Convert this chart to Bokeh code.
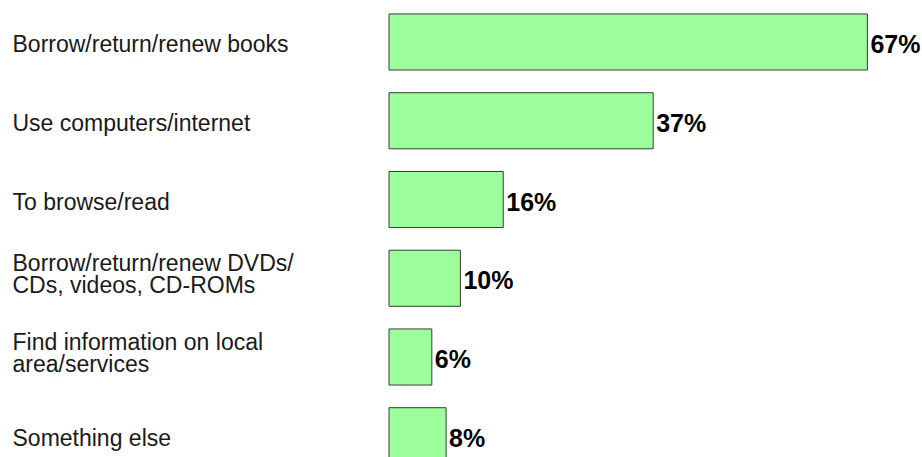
from bokeh.plotting import figure
from bokeh.models import ColumnDataSource, Range1d
from bokeh.core.properties import value
from bokeh.embed import file_html
from bokeh.resources import INLINE

categories = [
    "Borrow/return/renew books",
    "Use computers/internet",
    "To browse/read",
    "Borrow/return/renew DVDs/\nCDs, videos, CD-ROMs",
    "Find information on local\narea/services",
    "Something else",
]
percent = [67, 37, 16, 10, 6, 8]
value_labels = [f"{v}%" for v in percent]

pos = list(range(len(categories)))
src = ColumnDataSource(dict(y=pos, v=percent, cat=categories, lab=value_labels,
                            zero=[0] * len(pos)))

W, H = 922, 457
px_per_pct = 7.14
x0_px = 388.5
x_start = -x0_px / px_per_pct
x_end = (W - x0_px) / px_per_pct
step = 78.75
first = 41.5
y_top = -first / step
y_bottom = (H - first) / step

p = figure(width=W, height=H, output_backend="svg", toolbar_location=None,
           x_range=Range1d(x_start, x_end), y_range=Range1d(y_bottom, y_top),
           min_border=0, outline_line_color=None)
p.axis.visible = False
p.grid.visible = False
p.background_fill_color = "white"
p.border_fill_color = "white"

p.hbar(y="y", left="zero", right="v", height=0.712, source=src,
       fill_color="#9CFF9C", line_color="#3a3a3a", line_width=1)

p.text(x="v", y="y", text="lab", source=src, x_offset=3, y_offset=2,
       text_font=value("Liberation Sans"), text_font_style="bold",
       text_font_size="25px", text_baseline="middle", text_align="left",
       text_color="black")

single = [c for c in categories if "\n" not in c]
multi = [c for c in categories if "\n" in c]
single_y = [i for i, c in enumerate(categories) if "\n" not in c]
multi_y = [i for i, c in enumerate(categories) if "\n" in c]

s_src = ColumnDataSource(dict(x=[x_start] * len(single), y=single_y, cat=single))
m_src = ColumnDataSource(dict(x=[x_start] * len(multi), y=multi_y, cat=multi))
common = dict(text_font=value("Liberation Sans"), text_font_size="23px",
              text_baseline="middle", text_align="left", text_color="#1a1a1a",
              text_line_height=0.85)
p.text(x="x", y="y", text="cat", source=s_src, x_offset=12, y_offset=2, **common)
p.text(x="x", y="y", text="cat", source=m_src, x_offset=12, y_offset=-4, **common)

open("out.html", "w").write(file_html(p, INLINE))
